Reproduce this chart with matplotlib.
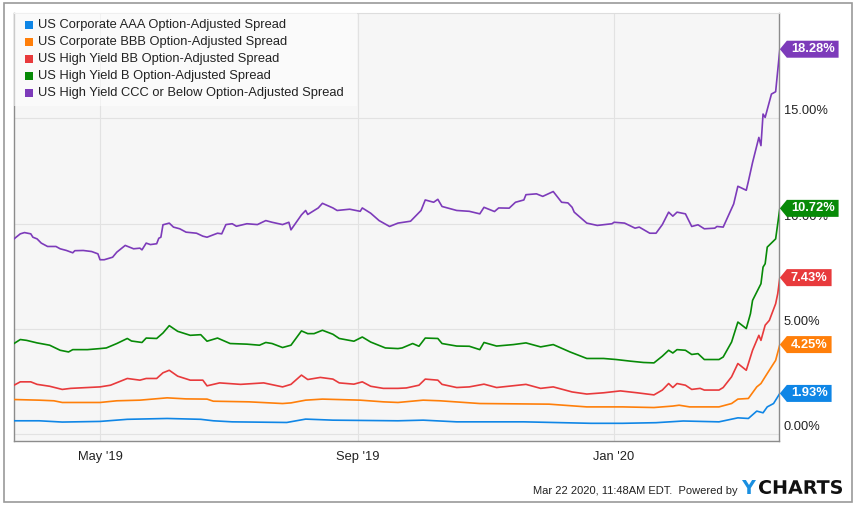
import numpy as np
import pandas as pd
import matplotlib
matplotlib.use("Agg")
import matplotlib.pyplot as plt
import matplotlib.dates as mdates
from matplotlib.patches import Rectangle, Polygon, PathPatch
from matplotlib.textpath import TextPath
from matplotlib.font_manager import FontProperties
from matplotlib.transforms import Affine2D, IdentityTransform, offset_copy, blended_transform_factory

plt.rcParams["font.family"] = ["Liberation Sans", "DejaVu Sans"]

W, H = 857, 512
START = pd.Timestamp("2019-03-21")

# days since START, spread in percent
aaa_days = [0, 12, 23, 41, 54, 73, 89, 95, 104, 130, 139, 152, 183, 195, 211, 243, 275,
            290, 306, 319, 336, 345, 350, 354, 357, 359, 362, 365]
aaa_vals = [0.63, 0.63, 0.57, 0.60, 0.70, 0.74, 0.70, 0.63, 0.58, 0.55, 0.71, 0.66, 0.63,
            0.66, 0.58, 0.58, 0.51, 0.51, 0.54, 0.62, 0.58, 0.77, 0.74, 1.09, 1.01, 1.29,
            1.45, 1.93]

bbb_days = [0, 12, 19, 23, 41, 49, 60, 73, 82, 92, 95, 112, 128, 132, 139, 147, 165, 176,
            183, 195, 203, 222, 255, 273, 290, 305, 314, 317, 322, 336, 342, 345, 350, 354,
            356, 358, 361, 363, 365]
bbb_vals = [1.64, 1.61, 1.58, 1.50, 1.50, 1.58, 1.61, 1.72, 1.67, 1.66, 1.56, 1.53, 1.45,
            1.48, 1.61, 1.66, 1.61, 1.53, 1.50, 1.61, 1.58, 1.45, 1.42, 1.29, 1.29, 1.26,
            1.33, 1.37, 1.29, 1.29, 1.45, 1.66, 1.69, 2.24, 2.40, 2.72, 3.19, 3.50, 4.25]

bb_days = [0, 3, 8, 11, 17, 23, 27, 35, 41, 46, 54, 60, 63, 68, 71, 74, 78, 84, 90, 92, 98,
           108, 119, 128, 132, 137, 140, 146, 152, 155, 162, 166, 170, 176, 183, 187, 193,
           196, 202, 204, 211, 217, 224, 230, 244, 251, 257, 266, 273, 281, 289, 297, 305,
           309, 312, 314, 316, 320, 323, 327, 329, 336, 338, 342, 345, 349, 352, 355, 356,
           358, 360, 363, 364, 365]
bb_vals = [2.32, 2.48, 2.48, 2.36, 2.27, 2.12, 2.17, 2.21, 2.24, 2.32, 2.64, 2.56, 2.64,
           2.64, 2.91, 3.03, 2.75, 2.56, 2.56, 2.29, 2.43, 2.36, 2.43, 2.24, 2.36, 2.80,
           2.59, 2.69, 2.61, 2.43, 2.37, 2.48, 2.27, 2.17, 2.17, 2.19, 2.32, 2.61, 2.56,
           2.36, 2.21, 2.24, 2.37, 2.21, 2.36, 2.17, 2.24, 2.00, 1.90, 1.96, 2.05, 1.96,
           1.86, 2.09, 2.40, 2.21, 2.40, 2.32, 2.12, 2.17, 2.09, 2.09, 2.21, 2.72, 3.35,
           3.03, 3.98, 4.69, 4.45, 5.17, 5.40, 6.19, 6.67, 7.43]

b_days = [0, 3, 6, 11, 17, 22, 26, 28, 35, 41, 44, 49, 54, 56, 61, 63, 68, 71, 74, 78, 84,
          89, 92, 97, 103, 111, 117, 120, 123, 128, 132, 137, 140, 143, 147, 152, 155, 162,
          166, 170, 177, 183, 185, 190, 193, 196, 202, 204, 211, 217, 222, 224, 230, 238,
          244, 251, 257, 265, 273, 281, 287, 294, 300, 305, 309, 312, 314, 316, 320, 323,
          326, 329, 336, 338, 342, 345, 349, 351, 352, 356, 357, 358, 359, 363, 365]
b_vals = [4.30, 4.49, 4.45, 4.33, 4.22, 3.98, 3.90, 4.01, 4.01, 4.06, 4.09, 4.30, 4.54,
          4.42, 4.35, 4.56, 4.54, 4.80, 5.15, 4.88, 4.69, 4.72, 4.41, 4.56, 4.30, 4.27,
          4.22, 4.35, 4.30, 4.11, 4.22, 4.90, 4.77, 4.77, 4.93, 4.74, 4.54, 4.41, 4.61,
          4.37, 4.09, 4.06, 4.09, 4.30, 4.17, 4.56, 4.54, 4.30, 4.18, 4.17, 4.01, 4.35,
          4.18, 4.25, 4.33, 4.14, 4.25, 3.90, 3.59, 3.59, 3.54, 3.46, 3.40, 3.38, 3.70,
          3.98, 3.85, 4.01, 3.98, 3.78, 3.82, 3.54, 3.54, 3.66, 4.37, 5.32, 5.01, 5.72,
          6.35, 7.14, 7.93, 8.09, 8.88, 9.27, 10.72]

ccc_days = [0, 3, 5, 8, 9, 11, 13, 16, 20, 22, 25, 28, 29, 33, 37, 40, 41, 43, 47, 49, 53,
            57, 60, 61, 63, 65, 68, 69, 70, 71, 74, 76, 79, 82, 87, 90, 92, 97, 99, 101,
            104, 106, 111, 116, 120, 123, 128, 131, 132, 137, 139, 140, 145, 147, 152, 154,
            160, 165, 166, 170, 174, 179, 183, 189, 194, 196, 200, 202, 204, 211, 217, 222,
            224, 229, 231, 236, 239, 243, 244, 249, 252, 257, 261, 264, 266, 267, 273, 278,
            285, 286, 291, 296, 298, 303, 306, 309, 312, 314, 316, 320, 323, 326, 329, 334,
            335, 338, 341, 343, 345, 349, 350, 352, 355, 356, 357, 358, 361, 363, 365]
ccc_vals = [9.27, 9.51, 9.57, 9.51, 9.35, 9.27, 9.07, 8.91, 8.91, 8.80, 8.72, 8.61, 8.71,
            8.72, 8.67, 8.56, 8.28, 8.28, 8.40, 8.64, 8.96, 8.80, 8.83, 8.75, 9.07, 9.00,
            9.04, 9.30, 9.35, 9.94, 10.02, 9.83, 9.75, 9.59, 9.54, 9.40, 9.35, 9.54, 9.51,
            9.95, 9.99, 9.87, 9.99, 9.95, 10.14, 10.06, 9.95, 10.06, 9.70, 10.41, 10.62,
            10.43, 10.74, 10.96, 10.74, 10.62, 10.68, 10.58, 10.74, 10.49, 10.14, 9.86,
            10.02, 10.11, 10.62, 11.12, 11.01, 11.15, 10.81, 10.62, 10.58, 10.46, 10.77,
            10.57, 10.74, 10.73, 11.01, 11.12, 11.37, 11.41, 11.29, 11.52, 11.01, 10.98,
            10.77, 10.54, 10.02, 9.91, 9.99, 10.06, 10.02, 9.78, 9.83, 9.54, 9.54, 9.95,
            10.54, 10.35, 10.54, 10.46, 9.86, 9.94, 9.75, 9.78, 9.86, 9.83, 10.49, 10.93,
            11.77, 11.58, 12.00, 12.90, 14.09, 13.70, 15.20, 15.04, 16.15, 16.26, 18.28]

names = ["US Corporate AAA Option-Adjusted Spread",
         "US Corporate BBB Option-Adjusted Spread",
         "US High Yield BB Option-Adjusted Spread",
         "US High Yield B Option-Adjusted Spread",
         "US High Yield CCC or Below Option-Adjusted Spread"]
colors = ["#0f86e6", "#ff7f0a", "#e83a3c", "#078a07", "#7d3bba"]
series = [(aaa_days, aaa_vals), (bbb_days, bbb_vals), (bb_days, bb_vals),
          (b_days, b_vals), (ccc_days, ccc_vals)]

ytick_vals = [0, 5, 10, 15]
xtick_dates = ["2019-05-01", "2019-09-01", "2020-01-01"]
xtick_labels = ["May '19", "Sep '19", "Jan '20"]

fig = plt.figure(figsize=(W / 100, H / 100), dpi=100)
ax = fig.add_axes([14 / W, 1 - 441 / H, (779 - 14) / W, (441 - 13) / H])
ax.set_facecolor("#f6f6f6")

for (days, vals), c in zip(series, colors):
    dates = START + pd.to_timedelta(days, unit="D")
    ax.plot(dates, vals, color=c, lw=1.2, solid_joinstyle="round", zorder=3)

ax.set_xlim(START, START + pd.Timedelta(days=364.6))
ax.set_ylim(-0.33, 20.0)
ax.set_xticks([pd.Timestamp(d) for d in xtick_dates])
ax.set_xticklabels(xtick_labels)
ax.set_yticks(ytick_vals)
ax.set_yticklabels([])
ax.tick_params(axis="both", length=0, labelsize=9.3, colors="#222222")
ax.tick_params(axis="x", pad=7)
ax.grid(True, color="#e2e2e2", lw=0.8)
ax.set_axisbelow(True)
for side in ["left", "bottom", "right"]:
    ax.spines[side].set_color("#8c8c8c")
    ax.spines[side].set_linewidth(1.0)
ax.spines["top"].set_color("#dddddd")

ytrans = offset_copy(blended_transform_factory(ax.transAxes, ax.transData),
                     fig=fig, x=5, y=7, units="dots")
for v in ytick_vals:
    ax.text(1, v, f"{v:.2f}%", transform=ytrans, ha="left", va="center",
            fontsize=9.3, color="#222222", clip_on=False)

# legend box
fig.add_artist(Rectangle((14 / W, 1 - 106 / H), (357 - 14) / W, (106 - 13) / H,
                         transform=fig.transFigure, facecolor="white", alpha=0.55,
                         edgecolor="none", zorder=1))
for i, (name, c) in enumerate(zip(names, colors)):
    yc = 25.3 + i * 17.0
    fig.add_artist(Rectangle((25 / W, 1 - (yc + 4) / H), 8 / W, 8 / H,
                             transform=fig.transFigure, facecolor=c, edgecolor="none",
                             zorder=2))
    fig.text(38 / W, 1 - yc / H, name, ha="left", va="center", fontsize=9.3,
             color="#222222")

# end-value tags
fig.canvas.draw()
renderer = fig.canvas.get_renderer()
for (days, vals), c in zip(series, colors):
    xe = mdates.date2num(START + pd.Timedelta(days=days[-1]))
    px, py = ax.transData.transform((xe, vals[-1]))
    bx = px + 7
    t = fig.text(bx + 4, py, f"{vals[-1]:.2f}%", transform=IdentityTransform(),
                 ha="left", va="center", fontsize=9.3, fontweight="bold",
                 color="white", zorder=5)
    w = t.get_window_extent(renderer=renderer).width
    ex = bx + 4 + w + 4
    hh = 8.5
    fig.add_artist(Polygon([(px, py), (bx, py + hh), (ex, py + hh), (ex, py - hh),
                            (bx, py - hh)], closed=True, transform=IdentityTransform(),
                           facecolor=c, edgecolor="none", zorder=4))

# footer
fig.text(738 / W, 1 - 491 / H, "Mar 22 2020, 11:48AM EDT.  Powered by", ha="right",
         va="center", fontsize=8, color="#222222")

logo_fp = FontProperties(family="DejaVu Sans", weight="bold")


def logo_word(s, x0, x1, ytop, ybot, color):
    tp = TextPath((0, 0), s, size=20, prop=logo_fp)
    bb = tp.get_extents()
    tr = (Affine2D().translate(-bb.x0, -bb.y0)
          .scale((x1 - x0) / bb.width, (ybot - ytop) / bb.height)
          .translate(x0, H - ybot))
    fig.add_artist(PathPatch(tp, transform=tr, facecolor=color, edgecolor="none",
                             zorder=3))


logo_word("Y", 742, 756, 480, 494, "#1a8fe0")
logo_word("CHARTS", 759, 842, 480, 494, "#111111")

# outer border
fig.add_artist(Rectangle((4 / W, 1 - 502 / H), (852 - 4) / W, (502 - 3) / H,
                         transform=fig.transFigure, fill=False, edgecolor="#9a9a9a",
                         lw=1.2, zorder=0))

fig.savefig("out.png", dpi=100, facecolor="white")
